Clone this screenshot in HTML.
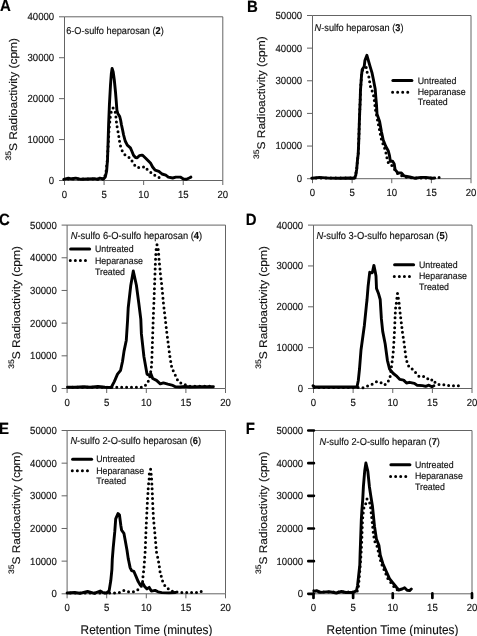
<!DOCTYPE html>
<html><head><meta charset="utf-8"><style>
html,body{margin:0;padding:0;background:#fff;width:477px;height:636px;overflow:hidden}
svg{display:block;will-change:transform;filter:blur(0.3px)}
text{font-family:"Liberation Sans", sans-serif;fill:#111;stroke:#111;stroke-width:0.15px;text-rendering:geometricPrecision}
.t{font-size:9.6px}
.yt{font-size:11.1px}
.xt{font-size:11.8px}
.L{font-size:15px;font-weight:bold;fill:#000}
.ti{}
.lg{font-size:8.8px}
</style></head><body>
<svg width="477" height="636" viewBox="0 0 477 636">
<path d="M64.5 180.5V16.8H222.8V180.5H64.5" fill="none" stroke="#646464" stroke-width="1"/>
<path d="M59 180.5H64.5M59 139.57H64.5M59 98.65H64.5M59 57.73H64.5M59 16.8H64.5M64.5 180.5V185M104.08 180.5V185M143.65 180.5V185M183.23 180.5V185M222.8 180.5V185" stroke="#646464" stroke-width="1"/>
<text transform="translate(54.2,183.9) scale(1,1.08)" text-anchor="end" class="t">0</text>
<text transform="translate(54.2,142.97) scale(1,1.08)" text-anchor="end" class="t">10000</text>
<text transform="translate(54.2,102.05) scale(1,1.08)" text-anchor="end" class="t">20000</text>
<text transform="translate(54.2,61.13) scale(1,1.08)" text-anchor="end" class="t">30000</text>
<text transform="translate(54.2,20.2) scale(1,1.08)" text-anchor="end" class="t">40000</text>
<text transform="translate(64.5,198.1) scale(1,1.08)" text-anchor="middle" class="t">0</text>
<text transform="translate(104.08,198.1) scale(1,1.08)" text-anchor="middle" class="t">5</text>
<text transform="translate(143.65,198.1) scale(1,1.08)" text-anchor="middle" class="t">10</text>
<text transform="translate(183.23,198.1) scale(1,1.08)" text-anchor="middle" class="t">15</text>
<text transform="translate(222.8,198.1) scale(1,1.08)" text-anchor="middle" class="t">20</text>
<text transform="translate(16.9,99.25) rotate(-90) scale(1.08,1)" text-anchor="middle" class="yt"><tspan font-size="7.9" dy="-6.3">35</tspan><tspan dy="6.3">S Radioactivity (cpm)</tspan></text>
<text transform="translate(-0.1,11.4) scale(1,1.08)" class="L">A</text>
<text transform="translate(66.2,33.7) scale(1,1.08)" class="ti" font-size="9.2">6-O-sulfo heparosan (<tspan font-weight="bold">2</tspan>)</text>
<path d="M68.31 179.00h0M73.21 179.00h0M78.11 179.00h0M83.01 179.00h0M87.91 179.00h0M92.81 179.00h0M97.71 179.00h0M102.61 179.00h0M104.96 175.63h0M106.12 170.88h0M106.65 166.01h0M107.18 161.13h0M107.53 156.25h0M107.82 151.36h0M108.11 146.47h0M108.38 141.57h0M108.64 136.68h0M108.90 131.79h0M109.31 126.90h0M109.80 122.03h0M110.28 117.15h0M111.19 112.35h0M113.10 107.90h0M115.23 112.24h0M115.93 117.09h0M116.43 121.96h0M117.11 126.81h0M118.01 131.63h0M118.82 136.46h0M119.54 141.31h0M120.51 146.10h0M122.17 150.71h0M124.91 154.76h0M129.01 157.40h0M132.03 161.12h0M134.73 165.16h0M138.68 167.45h0M143.52 167.01h0M147.08 169.37h0M150.82 172.43h0M154.80 175.28h0M159.07 177.61h0" stroke="#000" stroke-width="3.0" stroke-linecap="round"/>
<path d="M63.7 179.4 L68.4 178.1 L71.5 178.8 L75.7 178.1 L81.0 179.3 L87.3 179.0 L94.6 178.6 L97.7 179.4 L99.8 178.1 L103.5 179.0 L105.3 177.0 L106.6 171.3 L107.5 160.0 L108.0 145.0 L108.6 125.0 L109.4 105.0 L110.5 85.0 L111.3 74.0 L112.1 68.5 L113.2 72.0 L114.3 80.0 L115.5 92.0 L116.3 102.0 L116.9 110.0 L117.8 113.5 L119.7 116.5 L120.6 120.0 L121.5 125.0 L122.6 130.0 L123.6 135.0 L125.2 141.0 L127.3 145.2 L130.4 147.9 L132.0 151.5 L133.5 155.2 L135.5 157.5 L137.2 157.8 L139.3 155.7 L141.9 155.2 L143.1 155.7 L145.7 158.2 L148.2 160.8 L150.7 163.3 L152.6 167.0 L155.1 170.2 L158.9 171.4 L162.0 174.0 L165.8 175.2 L168.3 177.1 L172.7 178.0 L175.8 177.1 L180.3 177.1 L183.4 179.0 L186.5 179.2 L189.7 177.7 L190.9 177.1" fill="none" stroke="#000" stroke-width="2.9" stroke-linecap="round" stroke-linejoin="round"/>
<path d="M312.5 178.7V15.5H471V178.7H312.5" fill="none" stroke="#646464" stroke-width="1"/>
<path d="M307 178.7H312.5M307 146.06H312.5M307 113.42H312.5M307 80.78H312.5M307 48.14H312.5M307 15.5H312.5M312.5 178.7V183.2M352.12 178.7V183.2M391.75 178.7V183.2M431.38 178.7V183.2M471 178.7V183.2" stroke="#646464" stroke-width="1"/>
<text transform="translate(302.2,182.1) scale(1,1.08)" text-anchor="end" class="t">0</text>
<text transform="translate(302.2,149.46) scale(1,1.08)" text-anchor="end" class="t">10000</text>
<text transform="translate(302.2,116.82) scale(1,1.08)" text-anchor="end" class="t">20000</text>
<text transform="translate(302.2,84.18) scale(1,1.08)" text-anchor="end" class="t">30000</text>
<text transform="translate(302.2,51.54) scale(1,1.08)" text-anchor="end" class="t">40000</text>
<text transform="translate(302.2,18.9) scale(1,1.08)" text-anchor="end" class="t">50000</text>
<text transform="translate(312.5,196.3) scale(1,1.08)" text-anchor="middle" class="t">0</text>
<text transform="translate(352.12,196.3) scale(1,1.08)" text-anchor="middle" class="t">5</text>
<text transform="translate(391.75,196.3) scale(1,1.08)" text-anchor="middle" class="t">10</text>
<text transform="translate(431.38,196.3) scale(1,1.08)" text-anchor="middle" class="t">15</text>
<text transform="translate(471,196.3) scale(1,1.08)" text-anchor="middle" class="t">20</text>
<text transform="translate(265.1,97.7) rotate(-90) scale(1.08,1)" text-anchor="middle" class="yt"><tspan font-size="7.9" dy="-6.3">35</tspan><tspan dy="6.3">S Radioactivity (cpm)</tspan></text>
<text transform="translate(246.9,11.6) scale(1,1.08)" class="L">B</text>
<text transform="translate(314.6,30.8) scale(1,1.08)" class="ti" font-size="9.2"><tspan font-style="italic">N</tspan>-sulfo heparosan (<tspan font-weight="bold">3</tspan>)</text>
<path d="M392.9 80.6H411.9" stroke="#000" stroke-width="3" stroke-linecap="round"/>
<path d="M392.6 92.2H408.4" stroke="#000" stroke-width="3.0" stroke-linecap="round" stroke-dasharray="0 5.05"/>
<text transform="translate(417.7,83.6) scale(1,1.08)" class="lg">Untreated</text>
<text transform="translate(417.7,95.1) scale(1,1.08)" class="lg">Heparanase</text>
<text transform="translate(417.7,105.4) scale(1,1.08)" class="lg">Treated</text>
<path d="M316.18 178.00h0M321.08 178.00h0M325.98 178.00h0M330.88 178.00h0M335.78 178.00h0M340.68 178.00h0M345.58 178.00h0M350.48 178.00h0M355.07 177.63h0M356.00 172.82h0M356.81 167.99h0M357.23 163.11h0M357.71 158.23h0M358.23 153.36h0M358.44 148.46h0M358.65 143.57h0M358.84 138.67h0M358.99 133.78h0M359.13 128.88h0M359.28 123.98h0M359.44 119.08h0M359.63 114.19h0M359.83 109.29h0M360.02 104.39h0M360.22 99.50h0M360.36 94.60h0M360.52 89.70h0M360.86 84.81h0M361.21 79.93h0M361.64 75.05h0M362.53 70.23h0M366.20 67.50h0M367.16 72.30h0M368.86 76.88h0M369.65 81.70h0M370.46 86.53h0M372.14 91.09h0M373.57 95.73h0M374.33 100.57h0M374.93 105.43h0M375.56 110.29h0M376.52 115.09h0M377.48 119.90h0M378.44 124.70h0M379.40 129.51h0M380.36 134.31h0M381.32 139.12h0M382.91 143.75h0M384.60 148.34h0M385.96 153.05h0M386.93 157.85h0M388.22 162.58h0M391.82 165.52h0M394.65 169.46h0M397.55 173.41h0M401.72 175.86h0M406.41 177.13h0M411.25 177.82h0M416.15 177.92h0M421.05 178.00h0M425.95 178.00h0M430.85 178.00h0M439.10 177.40h0" stroke="#000" stroke-width="3.0" stroke-linecap="round"/>
<path d="M311.7 178.2 L319.5 177.4 L329.0 178.1 L339.4 178.2 L349.9 178.0 L354.1 178.2 L355.7 175.5 L356.7 169.2 L357.5 160.0 L358.2 154.0 L358.8 140.0 L359.4 120.0 L360.2 100.0 L360.5 90.0 L361.2 80.0 L361.5 76.0 L361.9 72.0 L362.2 69.6 L364.2 66.5 L364.9 60.6 L366.9 55.3 L368.4 60.6 L370.2 66.9 L372.1 73.2 L373.3 79.0 L375.2 89.0 L375.8 97.0 L376.5 105.0 L377.0 113.9 L379.6 121.4 L381.4 131.5 L383.2 140.0 L385.7 146.3 L388.2 150.7 L389.5 155.7 L390.4 161.4 L392.6 161.1 L394.2 163.9 L395.1 169.6 L397.6 172.7 L401.4 173.0 L403.9 175.8 L409.7 177.0 L414.5 178.2 L421.0 177.4 L425.8 177.4 L432.3 178.2 L434.7 178.0" fill="none" stroke="#000" stroke-width="2.9" stroke-linecap="round" stroke-linejoin="round"/>
<path d="M67.1 388.5V225.1H225.5V388.5H67.1" fill="none" stroke="#646464" stroke-width="1"/>
<path d="M61.6 388.5H67.1M61.6 355.82H67.1M61.6 323.14H67.1M61.6 290.46H67.1M61.6 257.78H67.1M61.6 225.1H67.1M67.1 388.5V393M106.7 388.5V393M146.3 388.5V393M185.9 388.5V393M225.5 388.5V393" stroke="#646464" stroke-width="1"/>
<text transform="translate(56.8,391.9) scale(1,1.08)" text-anchor="end" class="t">0</text>
<text transform="translate(56.8,359.22) scale(1,1.08)" text-anchor="end" class="t">10000</text>
<text transform="translate(56.8,326.54) scale(1,1.08)" text-anchor="end" class="t">20000</text>
<text transform="translate(56.8,293.86) scale(1,1.08)" text-anchor="end" class="t">30000</text>
<text transform="translate(56.8,261.18) scale(1,1.08)" text-anchor="end" class="t">40000</text>
<text transform="translate(56.8,228.5) scale(1,1.08)" text-anchor="end" class="t">50000</text>
<text transform="translate(67.1,406.1) scale(1,1.08)" text-anchor="middle" class="t">0</text>
<text transform="translate(106.7,406.1) scale(1,1.08)" text-anchor="middle" class="t">5</text>
<text transform="translate(146.3,406.1) scale(1,1.08)" text-anchor="middle" class="t">10</text>
<text transform="translate(185.9,406.1) scale(1,1.08)" text-anchor="middle" class="t">15</text>
<text transform="translate(225.5,406.1) scale(1,1.08)" text-anchor="middle" class="t">20</text>
<text transform="translate(20.1,307.4) rotate(-90) scale(1.08,1)" text-anchor="middle" class="yt"><tspan font-size="7.9" dy="-6.3">35</tspan><tspan dy="6.3">S Radioactivity (cpm)</tspan></text>
<text transform="translate(-1,225.1) scale(1,1.08)" class="L">C</text>
<text transform="translate(70.7,239) scale(1,1.08)" class="ti" font-size="9.35"><tspan font-style="italic">N</tspan>-sulfo 6-O-sulfo heparosan (<tspan font-weight="bold">4</tspan>)</text>
<path d="M70.6 249H89.6" stroke="#000" stroke-width="3" stroke-linecap="round"/>
<path d="M70.3 260.6H86.1" stroke="#000" stroke-width="3.0" stroke-linecap="round" stroke-dasharray="0 5.05"/>
<text transform="translate(95,252) scale(1,1.08)" class="lg">Untreated</text>
<text transform="translate(95,263.5) scale(1,1.08)" class="lg">Heparanase</text>
<text transform="translate(95,275.3) scale(1,1.08)" class="lg">Treated</text>
<path d="M72.70 387.20h0M77.60 387.20h0M82.50 387.20h0M87.40 387.20h0M92.30 387.20h0M97.20 387.20h0M102.10 387.20h0M107.00 387.20h0M111.90 387.20h0M116.80 387.20h0M121.70 387.20h0M126.60 387.20h0M131.50 387.20h0M136.40 387.20h0M141.30 387.20h0M145.47 385.16h0M148.26 381.27h0M149.90 376.70h0M150.69 371.87h0M151.37 367.02h0M151.74 362.13h0M151.91 357.24h0M152.08 352.34h0M152.25 347.44h0M152.42 342.54h0M152.59 337.65h0M152.75 332.75h0M152.92 327.85h0M153.09 322.96h0M153.26 318.06h0M153.45 313.16h0M153.66 308.27h0M153.86 303.37h0M154.06 298.48h0M154.24 293.58h0M154.42 288.68h0M154.61 283.79h0M154.79 278.89h0M154.98 273.99h0M155.16 269.10h0M155.34 264.20h0M155.54 259.30h0M155.82 254.41h0M156.13 249.52h0M157.00 244.70h0M158.21 249.42h0M158.69 254.29h0M159.02 259.18h0M159.49 264.06h0M159.96 268.94h0M160.38 273.82h0M160.97 278.68h0M161.56 283.55h0M162.05 288.42h0M162.53 293.30h0M162.98 298.18h0M163.42 303.06h0M163.97 307.93h0M164.54 312.79h0M165.13 317.66h0M165.67 322.53h0M166.21 327.40h0M166.78 332.27h0M167.40 337.13h0M168.02 341.99h0M168.64 346.85h0M169.25 351.71h0M169.91 356.56h0M170.72 361.40h0M171.54 366.23h0M173.21 370.83h0M175.32 375.24h0M177.41 379.68h0M180.81 382.88h0M185.30 384.78h0M189.97 386.29h0M194.86 386.30h0M199.76 386.30h0M204.66 386.30h0M209.56 386.30h0" stroke="#000" stroke-width="3.0" stroke-linecap="round"/>
<path d="M67.5 387.3 L75.0 387.3 L84.1 386.7 L90.0 387.3 L98.0 386.5 L105.0 387.3 L111.2 387.5 L114.3 381.6 L117.5 374.1 L120.6 370.3 L122.5 361.5 L124.0 351.4 L126.3 340.2 L127.6 320.0 L128.2 308.0 L130.8 285.2 L133.3 271.0 L136.4 285.2 L138.9 304.0 L140.8 319.1 L141.4 333.9 L143.9 356.5 L147.0 374.1 L149.6 375.4 L150.8 373.5 L152.7 378.5 L156.5 380.4 L160.3 383.9 L163.4 382.9 L167.8 384.2 L172.8 385.4 L175.3 386.8 L180.0 387.0 L185.0 386.5 L190.0 387.0 L200.0 386.7 L213.4 386.7" fill="none" stroke="#000" stroke-width="2.9" stroke-linecap="round" stroke-linejoin="round"/>
<path d="M313.5 388.5V225.1H472V388.5H313.5" fill="none" stroke="#646464" stroke-width="1"/>
<path d="M308 388.5H313.5M308 347.65H313.5M308 306.8H313.5M308 265.95H313.5M308 225.1H313.5M313.5 388.5V393M353.12 388.5V393M392.75 388.5V393M432.38 388.5V393M472 388.5V393" stroke="#646464" stroke-width="1"/>
<text transform="translate(303.2,391.9) scale(1,1.08)" text-anchor="end" class="t">0</text>
<text transform="translate(303.2,351.05) scale(1,1.08)" text-anchor="end" class="t">10000</text>
<text transform="translate(303.2,310.2) scale(1,1.08)" text-anchor="end" class="t">20000</text>
<text transform="translate(303.2,269.35) scale(1,1.08)" text-anchor="end" class="t">30000</text>
<text transform="translate(303.2,228.5) scale(1,1.08)" text-anchor="end" class="t">40000</text>
<text transform="translate(313.5,406.1) scale(1,1.08)" text-anchor="middle" class="t">0</text>
<text transform="translate(353.12,406.1) scale(1,1.08)" text-anchor="middle" class="t">5</text>
<text transform="translate(392.75,406.1) scale(1,1.08)" text-anchor="middle" class="t">10</text>
<text transform="translate(432.38,406.1) scale(1,1.08)" text-anchor="middle" class="t">15</text>
<text transform="translate(472,406.1) scale(1,1.08)" text-anchor="middle" class="t">20</text>
<text transform="translate(267,307.4) rotate(-90) scale(1.08,1)" text-anchor="middle" class="yt"><tspan font-size="7.9" dy="-6.3">35</tspan><tspan dy="6.3">S Radioactivity (cpm)</tspan></text>
<text transform="translate(245.8,224.9) scale(1,1.08)" class="L">D</text>
<text transform="translate(316.4,238.9) scale(1,1.08)" class="ti" font-size="9.35"><tspan font-style="italic">N</tspan>-sulfo 3-O-sulfo heparosan (<tspan font-weight="bold">5</tspan>)</text>
<path d="M394.6 264.8H413.6" stroke="#000" stroke-width="3" stroke-linecap="round"/>
<path d="M394.3 276.4H410.1" stroke="#000" stroke-width="3.0" stroke-linecap="round" stroke-dasharray="0 5.05"/>
<text transform="translate(419,267.8) scale(1,1.08)" class="lg">Untreated</text>
<text transform="translate(419,279.3) scale(1,1.08)" class="lg">Heparanase</text>
<text transform="translate(419,289.6) scale(1,1.08)" class="lg">Treated</text>
<path d="M314.04 387.50h0M318.94 387.50h0M323.84 387.50h0M328.74 387.50h0M333.64 387.50h0M338.54 387.50h0M343.44 387.50h0M348.34 387.50h0M353.24 387.50h0M358.14 387.61h0M362.97 387.75h0M367.56 386.02h0M372.10 384.18h0M376.42 381.86h0M381.08 382.66h0M385.13 384.62h0M388.37 380.94h0M390.14 376.39h0M390.88 371.56h0M391.45 366.70h0M392.11 361.84h0M392.72 356.98h0M393.22 352.11h0M393.57 347.22h0M393.85 342.33h0M394.13 337.44h0M394.42 332.54h0M394.67 327.65h0M394.86 322.75h0M395.05 317.86h0M395.29 312.96h0M395.60 308.08h0M396.28 303.22h0M396.89 298.36h0M397.50 293.50h0M398.36 298.32h0M399.12 303.16h0M399.61 308.04h0M400.11 312.91h0M400.71 317.77h0M401.30 322.64h0M401.88 327.50h0M402.46 332.37h0M403.21 337.21h0M403.98 342.05h0M404.59 346.91h0M405.18 351.78h0M405.84 356.63h0M406.89 361.41h0M408.63 365.96h0M412.17 369.06h0M415.56 372.54h0M418.87 376.15h0M423.59 376.43h0M427.77 378.85h0M431.78 380.08h0M434.97 382.31h0M438.99 384.46h0M443.85 384.66h0M448.64 385.44h0M453.49 385.66h0M458.38 385.74h0" stroke="#000" stroke-width="3.0" stroke-linecap="round"/>
<path d="M313.0 385.8 L315.0 387.0 L330.0 387.0 L345.0 387.0 L357.0 387.0 L358.3 380.5 L359.5 369.0 L361.0 350.0 L364.4 325.2 L366.5 304.3 L367.0 300.0 L368.1 286.4 L369.7 272.3 L372.3 272.8 L373.9 265.4 L375.3 272.0 L376.0 276.0 L376.5 288.5 L378.6 293.8 L380.2 299.5 L381.4 318.9 L382.7 331.4 L385.2 344.0 L386.0 350.0 L387.4 360.3 L389.6 369.1 L393.3 373.5 L397.0 376.4 L399.9 379.4 L403.6 380.1 L406.5 383.0 L409.5 382.3 L414.4 383.3 L416.9 385.2 L422.6 385.6 L425.7 386.4 L428.9 385.2 L432.0 386.7 L433.9 385.8" fill="none" stroke="#000" stroke-width="2.9" stroke-linecap="round" stroke-linejoin="round"/>
<path d="M67.1 593.8V430.5H225.5V593.8H67.1" fill="none" stroke="#646464" stroke-width="1"/>
<path d="M61.6 593.8H67.1M61.6 561.14H67.1M61.6 528.48H67.1M61.6 495.82H67.1M61.6 463.16H67.1M61.6 430.5H67.1M67.1 593.8V598.3M106.7 593.8V598.3M146.3 593.8V598.3M185.9 593.8V598.3M225.5 593.8V598.3" stroke="#646464" stroke-width="1"/>
<text transform="translate(56.8,597.2) scale(1,1.08)" text-anchor="end" class="t">0</text>
<text transform="translate(56.8,564.54) scale(1,1.08)" text-anchor="end" class="t">10000</text>
<text transform="translate(56.8,531.88) scale(1,1.08)" text-anchor="end" class="t">20000</text>
<text transform="translate(56.8,499.22) scale(1,1.08)" text-anchor="end" class="t">30000</text>
<text transform="translate(56.8,466.56) scale(1,1.08)" text-anchor="end" class="t">40000</text>
<text transform="translate(56.8,433.9) scale(1,1.08)" text-anchor="end" class="t">50000</text>
<text transform="translate(67.1,611.4) scale(1,1.08)" text-anchor="middle" class="t">0</text>
<text transform="translate(106.7,611.4) scale(1,1.08)" text-anchor="middle" class="t">5</text>
<text transform="translate(146.3,611.4) scale(1,1.08)" text-anchor="middle" class="t">10</text>
<text transform="translate(185.9,611.4) scale(1,1.08)" text-anchor="middle" class="t">15</text>
<text transform="translate(225.5,611.4) scale(1,1.08)" text-anchor="middle" class="t">20</text>
<text transform="translate(20.1,512.75) rotate(-90) scale(1.08,1)" text-anchor="middle" class="yt"><tspan font-size="7.9" dy="-6.3">35</tspan><tspan dy="6.3">S Radioactivity (cpm)</tspan></text>
<text transform="translate(-0.9,433.6) scale(1,1.08)" class="L">E</text>
<text transform="translate(70.4,443.5) scale(1,1.08)" class="ti" font-size="9.3"><tspan font-style="italic">N</tspan>-sulfo 2-O-sulfo heparosan (<tspan font-weight="bold">6</tspan>)</text>
<path d="M72.6 459.2H91.6" stroke="#000" stroke-width="3" stroke-linecap="round"/>
<path d="M72.3 470.8H88.1" stroke="#000" stroke-width="3.0" stroke-linecap="round" stroke-dasharray="0 5.05"/>
<text transform="translate(96.2,462.2) scale(1,1.08)" class="lg">Untreated</text>
<text transform="translate(96.2,473.7) scale(1,1.08)" class="lg">Heparanase</text>
<text transform="translate(96.2,484) scale(1,1.08)" class="lg">Treated</text>
<path d="M70.44 593.00h0M75.34 593.00h0M80.24 593.00h0M85.14 593.00h0M90.04 593.00h0M94.94 593.00h0M99.84 593.00h0M104.74 593.00h0M109.64 593.00h0M114.54 593.00h0M119.39 592.46h0M123.83 590.41h0M128.53 591.78h0M133.43 591.80h0M137.82 589.64h0M141.35 586.25h0M142.60 581.56h0M142.98 576.68h0M143.54 571.81h0M144.03 566.94h0M144.42 562.05h0M144.73 557.16h0M145.11 552.28h0M145.34 547.38h0M145.53 542.49h0M145.71 537.59h0M145.90 532.69h0M146.11 527.80h0M146.34 522.90h0M146.58 518.01h0M146.82 513.12h0M147.07 508.22h0M147.33 503.33h0M147.55 498.43h0M147.92 493.55h0M148.20 488.66h0M148.58 483.77h0M149.13 478.90h0M149.29 474.01h0M150.60 469.30h0M151.16 474.17h0M151.61 479.05h0M151.85 483.94h0M152.11 488.83h0M152.33 493.73h0M152.52 498.62h0M152.71 503.52h0M152.94 508.41h0M153.20 513.31h0M153.46 518.20h0M153.90 523.08h0M154.37 527.96h0M154.82 532.84h0M155.24 537.72h0M155.66 542.60h0M156.09 547.48h0M156.54 552.36h0M157.66 557.13h0M158.59 561.94h0M159.37 566.78h0M160.04 571.63h0M161.25 576.37h0M162.57 581.09h0M164.74 585.41h0M168.25 588.66h0M172.40 591.27h0M176.99 592.10h0M181.84 592.57h0M186.70 592.48h0M191.59 592.42h0M196.49 592.50h0M201.19 591.45h0" stroke="#000" stroke-width="3.0" stroke-linecap="round"/>
<path d="M67.1 593.0 L74.5 592.5 L79.7 593.3 L87.6 591.5 L94.4 593.3 L100.2 591.0 L102.9 592.6 L106.5 593.0 L109.1 591.0 L110.8 580.6 L111.9 569.5 L112.3 559.1 L113.2 547.8 L114.8 531.4 L115.7 518.9 L118.0 513.5 L119.5 515.1 L120.8 525.2 L121.6 530.2 L123.9 533.3 L125.2 540.3 L127.0 550.3 L128.3 559.1 L128.6 560.3 L130.1 567.6 L131.6 570.6 L133.8 571.3 L136.0 576.4 L138.2 581.6 L140.4 585.2 L142.6 583.0 L144.8 586.7 L147.0 588.9 L149.2 587.4 L151.4 591.1 L155.1 590.4 L158.0 591.8 L161.7 592.6 L169.0 592.9 L175.4 592.5" fill="none" stroke="#000" stroke-width="2.9" stroke-linecap="round" stroke-linejoin="round"/>
<path d="M313.5 593.8V430.5H472V593.8H313.5" fill="none" stroke="#646464" stroke-width="1"/>
<path d="M308.3 593.8H313.9M308.3 561.14H313.9M308.3 528.48H313.9M308.3 495.82H313.9M308.3 463.16H313.9M308.3 430.5H313.9M313.5 593.4V598M353.12 593.4V598M392.75 593.4V598M432.38 593.4V598M472 593.4V598" stroke="#000" stroke-width="2.7" stroke-linecap="round"/>
<text transform="translate(303.2,597.2) scale(1,1.08)" text-anchor="end" class="t">0</text>
<text transform="translate(303.2,564.54) scale(1,1.08)" text-anchor="end" class="t">10000</text>
<text transform="translate(303.2,531.88) scale(1,1.08)" text-anchor="end" class="t">20000</text>
<text transform="translate(303.2,499.22) scale(1,1.08)" text-anchor="end" class="t">30000</text>
<text transform="translate(303.2,466.56) scale(1,1.08)" text-anchor="end" class="t">40000</text>
<text transform="translate(303.2,433.9) scale(1,1.08)" text-anchor="end" class="t">50000</text>
<text transform="translate(313.5,611.4) scale(1,1.08)" text-anchor="middle" class="t">0</text>
<text transform="translate(353.12,611.4) scale(1,1.08)" text-anchor="middle" class="t">5</text>
<text transform="translate(392.75,611.4) scale(1,1.08)" text-anchor="middle" class="t">10</text>
<text transform="translate(432.38,611.4) scale(1,1.08)" text-anchor="middle" class="t">15</text>
<text transform="translate(472,611.4) scale(1,1.08)" text-anchor="middle" class="t">20</text>
<text transform="translate(267,512.75) rotate(-90) scale(1.08,1)" text-anchor="middle" class="yt"><tspan font-size="7.9" dy="-6.3">35</tspan><tspan dy="6.3">S Radioactivity (cpm)</tspan></text>
<text transform="translate(245.8,433.6) scale(1,1.08)" class="L">F</text>
<text transform="translate(319.6,444.9) scale(1,1.08)" class="ti" font-size="9.25"><tspan font-style="italic">N</tspan>-sulfo 2-O-sulfo heparan (<tspan font-weight="bold">7</tspan>)</text>
<path d="M390.9 464.8H409.9" stroke="#000" stroke-width="3" stroke-linecap="round"/>
<path d="M390.6 476.4H406.4" stroke="#000" stroke-width="3.0" stroke-linecap="round" stroke-dasharray="0 5.05"/>
<text transform="translate(414.9,467.8) scale(1,1.08)" class="lg">Untreated</text>
<text transform="translate(414.9,479.3) scale(1,1.08)" class="lg">Heparanase</text>
<text transform="translate(414.9,489.6) scale(1,1.08)" class="lg">Treated</text>
<path d="M318.84 592.00h0M323.74 592.00h0M328.64 592.00h0M333.54 592.00h0M338.44 592.00h0M343.34 592.00h0M348.24 592.00h0M353.14 592.00h0M357.25 590.99h0M358.44 586.24h0M358.92 581.37h0M359.36 576.49h0M359.75 571.60h0M360.12 566.71h0M360.49 561.83h0M360.85 556.94h0M361.16 552.05h0M361.42 547.16h0M361.68 542.27h0M361.89 537.37h0M362.06 532.47h0M362.23 527.58h0M362.41 522.68h0M362.72 517.79h0M363.21 512.92h0M363.89 508.07h0M365.72 503.73h0M367.00 499.00h0M369.69 502.96h0M370.59 507.77h0M371.15 512.64h0M371.71 517.51h0M372.24 522.38h0M372.73 527.25h0M373.21 532.13h0M373.92 536.97h0M374.95 541.76h0M377.02 546.20h0M378.19 550.93h0M379.20 555.72h0M380.51 560.45h0M381.99 565.11h0M383.96 569.59h0M385.91 574.09h0M387.83 578.60h0M390.74 582.52h0M393.75 586.39h0M397.20 589.83h0" stroke="#000" stroke-width="3.0" stroke-linecap="round"/>
<path d="M313.8 590.8 L315.3 591.2 L316.5 590.6 L320.6 592.4 L329.0 591.6 L336.3 593.0 L341.5 591.5 L345.7 592.5 L352.0 592.5 L354.6 591.8 L356.5 590.5 L357.5 586.0 L358.5 577.0 L359.8 565.0 L360.1 554.0 L360.6 540.0 L361.3 520.0 L361.9 510.0 L362.7 500.0 L363.4 486.7 L364.7 471.0 L365.9 463.0 L367.8 471.0 L369.4 486.7 L371.0 497.2 L372.5 506.6 L374.5 526.4 L376.4 539.0 L378.9 545.3 L380.3 555.1 L382.8 563.5 L386.1 571.0 L389.5 578.6 L392.9 582.8 L396.2 587.0 L398.7 590.0 L402.1 589.0 L404.6 587.8 L407.1 590.3 L409.6 590.6 L411.3 589.0" fill="none" stroke="#000" stroke-width="2.9" stroke-linecap="round" stroke-linejoin="round"/>
<text transform="translate(146.5,633.5) scale(1,1.08)" text-anchor="middle" class="xt">Retention Time (minutes)</text>
<text transform="translate(392.5,633.5) scale(1,1.08)" text-anchor="middle" class="xt">Retention Time (minutes)</text>
</svg>
</body></html>
